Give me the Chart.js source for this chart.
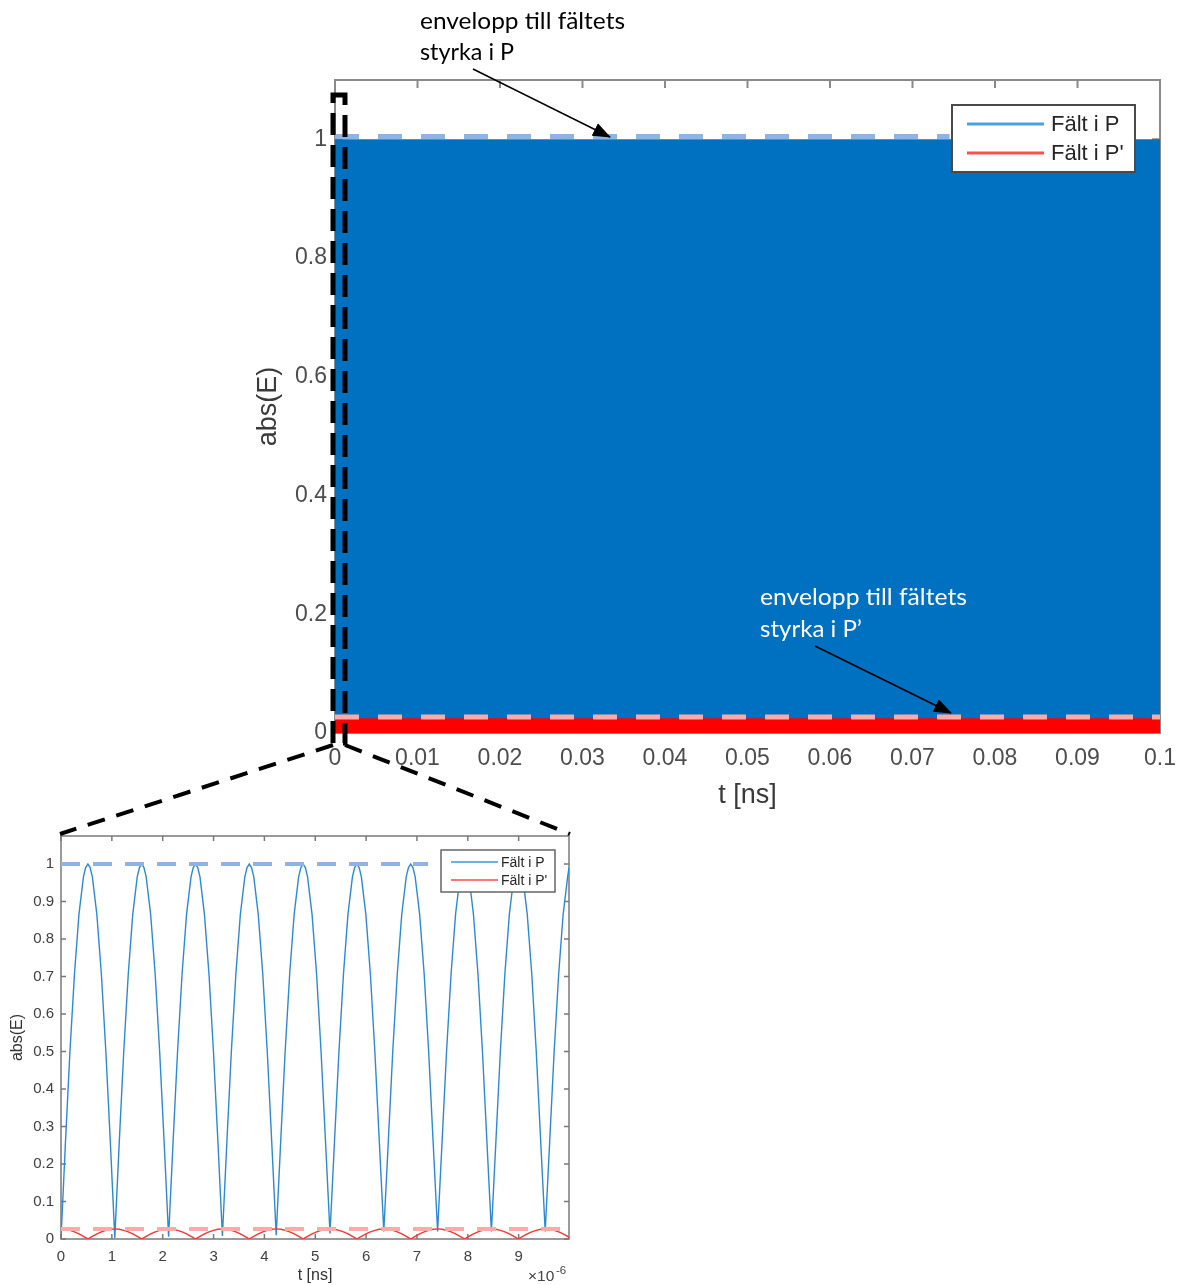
<!DOCTYPE html>
<html>
<head>
<meta charset="utf-8">
<script src="https://cdn.jsdelivr.net/npm/chart.js@4.4.1/dist/chart.umd.min.js"></script>
<style>
  body { margin: 0; background: #fff; }
  #wrap { position: relative; width: 1182px; height: 1285px; overflow: hidden; }
  #huvud { position: absolute; left: 0; top: 0; }
  #zoom { position: absolute; left: 0; top: 820px; }
  #ann { position: absolute; left: 0; top: 0; pointer-events: none; }
</style>
</head>
<body>
<div id="wrap">
  <canvas id="huvud" width="1182" height="820"></canvas>
  <canvas id="zoom" width="600" height="465"></canvas>
  <svg id="ann" width="1182" height="1285">
    <defs>
      <marker id="pil" markerUnits="userSpaceOnUse" markerWidth="18" markerHeight="14" refX="17" refY="7" orient="auto">
        <path d="M0,0 L18,7 L0,14 z" fill="#000"/>
      </marker>
    </defs>
    <!-- inzoomat område och hjälplinjer -->
    <rect x="333" y="95" width="12" height="648" fill="none" stroke="#000" stroke-width="5" stroke-dasharray="22 10"/>
    <line x1="333" y1="745" x2="60" y2="834" stroke="#000" stroke-width="4" stroke-dasharray="18 12"/>
    <line x1="345" y1="745" x2="570" y2="834" stroke="#000" stroke-width="4" stroke-dasharray="18 12"/>
    <!-- pilar -->
    <line x1="473" y1="69" x2="610" y2="137" stroke="#000" stroke-width="1.6" marker-end="url(#pil)"/>
    <line x1="815" y1="646" x2="951" y2="713" stroke="#000" stroke-width="1.6" marker-end="url(#pil)"/>
    <!-- texter -->
    <g font-family="Lato, 'Open Sans', sans-serif" font-size="22.5">
      <text x="420" y="29" textLength="205" lengthAdjust="spacingAndGlyphs" fill="#000">envelopp till fältets</text>
      <text x="420" y="60" textLength="94" lengthAdjust="spacingAndGlyphs" fill="#000">styrka i P</text>
      <text x="760" y="605" textLength="207" lengthAdjust="spacingAndGlyphs" fill="#fff">envelopp till fältets</text>
      <text x="760" y="637" textLength="102" lengthAdjust="spacingAndGlyphs" fill="#fff">styrka i P’</text>
    </g>
    <g font-family="'Liberation Sans', Arial, sans-serif" fill="#444">
      <text x="528" y="1281" font-size="15.5">×10</text>
      <text x="556" y="1274" font-size="11.5">-6</text>
    </g>
  </svg>
</div>
<script>
// ---- huvudfigur, t i ns ----
// fältet svänger så tätt att det syns som ett fyllt band
var mainT = [0, 0.1];
var mainFieldP = [1, 1];
var mainFieldP2 = [0.025, 0.025];
var mainEnvPT = [0, 0.0745];
var mainEnvP = [1.005, 1.005];
var mainEnvP2T = [0, 0.1];
var mainEnvP2 = [0.027, 0.027];
var mainXTicks = [0, 0.01, 0.02, 0.03, 0.04, 0.05, 0.06, 0.07, 0.08, 0.09, 0.1];
var mainYTicks = [0, 0.2, 0.4, 0.6, 0.8, 1];

// ---- inzoomad figur, t i 1e-6 ns ----
var zoomT = [
  0, 0.088, 0.176, 0.265, 0.353, 0.441, 0.485, 0.529, 0.573, 0.617, 0.705, 0.794, 0.882, 0.970,
  1.058, 1.146, 1.234, 1.323, 1.411, 1.499, 1.543, 1.587, 1.631, 1.675, 1.763, 1.852, 1.940, 2.028,
  2.116, 2.204, 2.292, 2.381, 2.469, 2.557, 2.601, 2.645, 2.689, 2.733, 2.821, 2.910, 2.998, 3.086,
  3.174, 3.262, 3.350, 3.439, 3.527, 3.615, 3.659, 3.703, 3.747, 3.791, 3.879, 3.968, 4.056, 4.144,
  4.232, 4.320, 4.408, 4.497, 4.585, 4.673, 4.717, 4.761, 4.805, 4.849, 4.937, 5.026, 5.114, 5.202,
  5.290, 5.378, 5.466, 5.555, 5.643, 5.731, 5.775, 5.819, 5.863, 5.907, 5.995, 6.084, 6.172, 6.260,
  6.348, 6.436, 6.524, 6.613, 6.701, 6.789, 6.833, 6.877, 6.921, 6.965, 7.053, 7.142, 7.230, 7.318,
  7.406, 7.494, 7.582, 7.671, 7.759, 7.847, 7.891, 7.935, 7.979, 8.023, 8.111, 8.200, 8.288, 8.376,
  8.464, 8.552, 8.640, 8.729, 8.817, 8.905, 8.949, 8.993, 9.037, 9.081, 9.169, 9.258, 9.346, 9.434,
  9.522, 9.610, 9.698, 9.787, 9.875, 9.963, 9.99
];
var zoomFieldP = [
  0, 0.259, 0.5, 0.707, 0.866, 0.966, 0.991, 1, 0.991, 0.966, 0.866, 0.707, 0.5, 0.259,
  0.003, 0.259, 0.5, 0.707, 0.866, 0.966, 0.991, 1, 0.991, 0.966, 0.866, 0.707, 0.5, 0.259,
  0.006, 0.259, 0.5, 0.707, 0.866, 0.966, 0.991, 1, 0.991, 0.966, 0.866, 0.707, 0.5, 0.259,
  0.008, 0.259, 0.5, 0.707, 0.866, 0.966, 0.991, 1, 0.991, 0.966, 0.866, 0.707, 0.5, 0.259,
  0.01, 0.259, 0.5, 0.707, 0.866, 0.966, 0.991, 1, 0.991, 0.966, 0.866, 0.707, 0.5, 0.259,
  0.015, 0.259, 0.5, 0.707, 0.866, 0.966, 0.991, 1, 0.991, 0.966, 0.866, 0.707, 0.5, 0.259,
  0.02, 0.259, 0.5, 0.707, 0.866, 0.966, 0.991, 1, 0.991, 0.966, 0.866, 0.707, 0.5, 0.259,
  0.02, 0.259, 0.5, 0.707, 0.866, 0.966, 0.991, 1, 0.991, 0.966, 0.866, 0.707, 0.5, 0.259,
  0.02, 0.259, 0.5, 0.707, 0.866, 0.966, 0.991, 1, 0.991, 0.966, 0.866, 0.707, 0.5, 0.259,
  0.02, 0.259, 0.5, 0.707, 0.866, 0.966, 0.99
];
var zoomFieldP2 = [
  0.027, 0.026, 0.023, 0.019, 0.0135, 0.007, 0.0035, 0, 0.0035, 0.007, 0.0135, 0.019, 0.023, 0.026,
  0.027, 0.026, 0.023, 0.019, 0.0135, 0.007, 0.0035, 0, 0.0035, 0.007, 0.0135, 0.019, 0.023, 0.026,
  0.027, 0.026, 0.023, 0.019, 0.0135, 0.007, 0.0035, 0, 0.0035, 0.007, 0.0135, 0.019, 0.023, 0.026,
  0.027, 0.026, 0.023, 0.019, 0.0135, 0.007, 0.0035, 0, 0.0035, 0.007, 0.0135, 0.019, 0.023, 0.026,
  0.027, 0.026, 0.023, 0.019, 0.0135, 0.007, 0.0035, 0, 0.0035, 0.007, 0.0135, 0.019, 0.023, 0.026,
  0.027, 0.026, 0.023, 0.019, 0.0135, 0.007, 0.0035, 0, 0.0035, 0.007, 0.0135, 0.019, 0.023, 0.026,
  0.027, 0.026, 0.023, 0.019, 0.0135, 0.007, 0.0035, 0, 0.0035, 0.007, 0.0135, 0.019, 0.023, 0.026,
  0.027, 0.026, 0.023, 0.019, 0.0135, 0.007, 0.0035, 0, 0.0035, 0.007, 0.0135, 0.019, 0.023, 0.026,
  0.027, 0.026, 0.023, 0.019, 0.0135, 0.007, 0.0035, 0, 0.0035, 0.007, 0.0135, 0.019, 0.023, 0.026,
  0.027, 0.026, 0.023, 0.019, 0.0135, 0.007, 0.003
];
var zoomEnvPT = [0, 7.22];
var zoomEnvP = [1, 1];
var zoomEnvP2T = [0, 10];
var zoomEnvP2 = [0.027, 0.027];
var zoomXTicks = [0, 1, 2, 3, 4, 5, 6, 7, 8, 9];
var zoomYTicks = [0, 0.1, 0.2, 0.3, 0.4, 0.5, 0.6, 0.7, 0.8, 0.9, 1];

function pts(xs, ys) {
  return xs.map(function (x, i) { return { x: x, y: ys[i] }; });
}

var FONT = "'Liberation Sans', Arial, sans-serif";

// ram med inåtvända streck (matlab-stil), ritas under data
var ramPlugin = {
  id: 'ram',
  beforeDatasetsDraw: function (chart, args, o) {
    var ctx = chart.ctx, a = chart.chartArea;
    var sx = chart.scales.x, sy = chart.scales.y;
    ctx.save();
    ctx.strokeStyle = o.color;
    ctx.lineWidth = o.width;
    ctx.strokeRect(a.left, a.top, a.right - a.left, a.bottom - a.top);
    ctx.beginPath();
    sx.ticks.forEach(function (t, i) {
      var p = sx.getPixelForTick(i);
      ctx.moveTo(p, a.bottom); ctx.lineTo(p, a.bottom - o.len);
      ctx.moveTo(p, a.top); ctx.lineTo(p, a.top + o.len);
    });
    sy.ticks.forEach(function (t, i) {
      var p = sy.getPixelForTick(i);
      ctx.moveTo(a.left, p); ctx.lineTo(a.left + o.len, p);
      ctx.moveTo(a.right, p); ctx.lineTo(a.right - o.len, p);
    });
    ctx.stroke();
    ctx.restore();
  }
};

// legend med ram inne i diagrammet
var legendPlugin = {
  id: 'ruta',
  afterDraw: function (chart, args, o) {
    var ctx = chart.ctx;
    var items = chart.data.datasets.filter(function (d) { return d.legendColor; });
    ctx.save();
    ctx.fillStyle = '#fff';
    ctx.fillRect(o.left, o.top, o.w, o.h);
    ctx.strokeStyle = o.border;
    ctx.lineWidth = o.borderWidth;
    ctx.strokeRect(o.left, o.top, o.w, o.h);
    ctx.font = o.size + 'px ' + FONT;
    ctx.textBaseline = 'middle';
    items.forEach(function (d, i) {
      var y = o.top + o.first + i * o.rowH;
      ctx.strokeStyle = d.legendColor;
      ctx.lineWidth = o.lineWidth;
      ctx.beginPath();
      ctx.moveTo(o.left + o.pad, y);
      ctx.lineTo(o.left + o.pad + o.lineLen, y);
      ctx.stroke();
      ctx.fillStyle = '#262626';
      ctx.fillText(d.label, o.left + o.pad + o.lineLen + o.gap, y + 1);
    });
    ctx.restore();
  }
};

function fixTicks(list) {
  return function (scale) {
    scale.ticks = list.map(function (v) { return { value: v }; });
  };
}

// x-axelns höjd låses och etiketterna får inte krympa ritytan
function fixX(h) {
  return function (s) { s.height = h; s.paddingLeft = 0; s.paddingRight = 0; };
}

// huvudfigur
new Chart(document.getElementById('huvud'), {
  type: 'line',
  data: {
    datasets: [
      { label: 'Fält i P', data: pts(mainT, mainFieldP), fill: 'origin',
        backgroundColor: '#0070c0', borderWidth: 0, pointRadius: 0, order: 3,
        legendColor: '#4fa0dc' },
      { label: "Fält i P'", data: pts(mainT, mainFieldP2), fill: 'origin',
        backgroundColor: '#ff0000', borderWidth: 0, pointRadius: 0, order: 2,
        legendColor: '#ff5050' },
      { label: 'envelopp P', data: pts(mainEnvPT, mainEnvP), fill: false,
        borderColor: '#8db4e2', borderWidth: 5, borderDash: [24, 19], pointRadius: 0, order: 1 },
      { label: "envelopp P'", data: pts(mainEnvP2T, mainEnvP2), fill: false,
        borderColor: '#ffaaaa', borderWidth: 5, borderDash: [24, 19], pointRadius: 0, order: 0 }
    ]
  },
  options: {
    responsive: false,
    animation: false,
    events: [],
    layout: { padding: { top: 80, right: 22, left: 0, bottom: 0 } },
    scales: {
      x: {
        type: 'linear', min: 0, max: 0.1,
        afterBuildTicks: fixTicks(mainXTicks),
        afterFit: fixX(87),
        grid: { display: false, drawTicks: false }, border: { display: false },
        ticks: { autoSkip: false, maxRotation: 0, padding: 12, color: '#4d4d4d',
                 font: { family: FONT, size: 23 }, callback: function (v) { return String(v); } },
        title: { display: true, text: 't [ns]', color: '#3a3a3a',
                 font: { family: FONT, size: 27 }, padding: { top: 0, bottom: 8 } }
      },
      y: {
        type: 'linear', min: 0, max: 1.1,
        afterBuildTicks: fixTicks(mainYTicks),
        afterFit: function (s) { s.width = 335; },
        grid: { display: false, drawTicks: false }, border: { display: false },
        ticks: { autoSkip: false, padding: 8, color: '#4d4d4d',
                 font: { family: FONT, size: 23 }, callback: function (v) { return String(v); } },
        title: { display: true, text: 'abs(E)', color: '#3a3a3a',
                 font: { family: FONT, size: 27 }, padding: { top: 252, bottom: 0 } }
      }
    },
    plugins: {
      legend: { display: false },
      tooltip: { enabled: false },
      ram: { color: '#8a8a8a', width: 2, len: 8 },
      ruta: { left: 952, top: 105, w: 183, h: 67, border: '#4a4a4a', borderWidth: 2,
              size: 22, first: 19, rowH: 29, pad: 15, lineLen: 77, gap: 7, lineWidth: 3 }
    }
  },
  plugins: [ramPlugin, legendPlugin]
});

// inzoomad figur
new Chart(document.getElementById('zoom'), {
  type: 'line',
  data: {
    datasets: [
      { label: 'Fält i P', data: pts(zoomT, zoomFieldP), fill: false,
        borderColor: '#2e8ad0', borderWidth: 1.4, pointRadius: 0, order: 3,
        legendColor: '#3d96d8' },
      { label: "Fält i P'", data: pts(zoomT, zoomFieldP2), fill: false,
        borderColor: '#ff3434', borderWidth: 1.4, pointRadius: 0, order: 2,
        legendColor: '#ff4a4a' },
      { label: 'envelopp P', data: pts(zoomEnvPT, zoomEnvP), fill: false,
        borderColor: '#8db4e2', borderWidth: 4, borderDash: [19, 13], pointRadius: 0, order: 1 },
      { label: "envelopp P'", data: pts(zoomEnvP2T, zoomEnvP2), fill: false,
        borderColor: '#ffaaaa', borderWidth: 4, borderDash: [19, 13], pointRadius: 0, order: 0 }
    ]
  },
  options: {
    responsive: false,
    animation: false,
    events: [],
    layout: { padding: { top: 15, right: 31, left: 0, bottom: 0 } },
    scales: {
      x: {
        type: 'linear', min: 0, max: 9.99,
        afterBuildTicks: fixTicks(zoomXTicks),
        afterFit: fixX(46),
        grid: { display: false, drawTicks: false }, border: { display: false },
        ticks: { autoSkip: false, maxRotation: 0, padding: 9, color: '#404040',
                 font: { family: FONT, size: 15 }, callback: function (v) { return String(v); } },
        title: { display: true, text: 't [ns]', color: '#333',
                 font: { family: FONT, size: 16 }, padding: { top: 0, bottom: 0 } }
      },
      y: {
        type: 'linear', min: 0, max: 1.075,
        afterBuildTicks: fixTicks(zoomYTicks),
        afterFit: function (s) { s.width = 61; },
        grid: { display: false, drawTicks: false }, border: { display: false },
        ticks: { autoSkip: false, padding: 7, color: '#404040',
                 font: { family: FONT, size: 15 }, callback: function (v) { return String(v); } },
        title: { display: true, text: 'abs(E)', color: '#333',
                 font: { family: FONT, size: 16 }, padding: { top: 8, bottom: 0 } }
      }
    },
    plugins: {
      legend: { display: false },
      tooltip: { enabled: false },
      ram: { color: '#7a7a7a', width: 1.5, len: 5 },
      ruta: { left: 441, top: 30, w: 114, h: 42, border: '#666', borderWidth: 1.5,
              size: 14, first: 12, rowH: 18, pad: 10, lineLen: 47, gap: 3, lineWidth: 1.6 }
    }
  },
  plugins: [ramPlugin, legendPlugin]
});
</script>
</body>
</html>
